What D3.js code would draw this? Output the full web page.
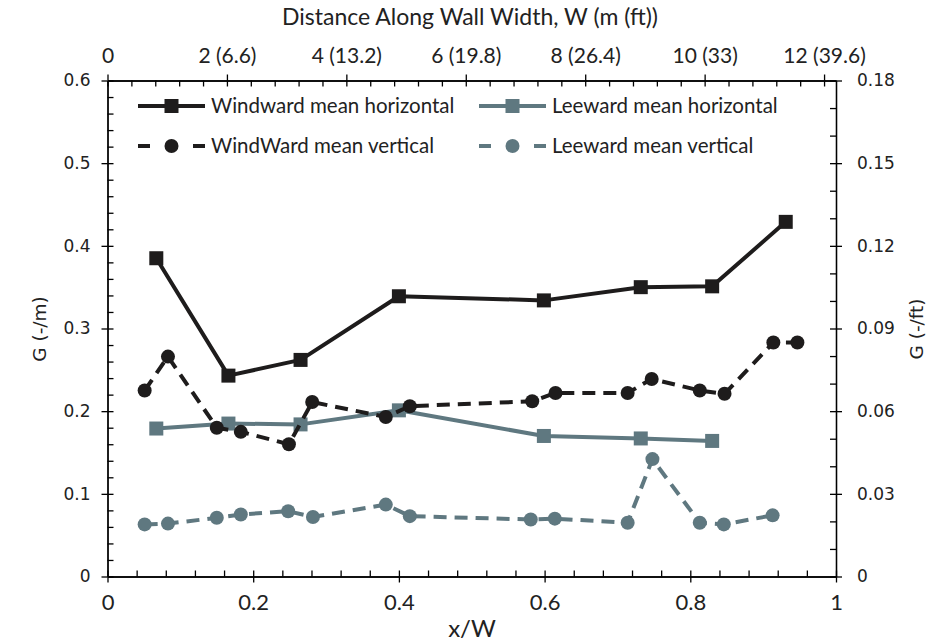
<!DOCTYPE html>
<html>
<head>
<meta charset="utf-8">
<script src="https://cdn.jsdelivr.net/npm/d3@7"></script>
<style>
  body { margin: 0; background: #fff; }
  svg { display: block; }
</style>
</head>
<body>
<svg id="chart" width="935" height="641"></svg>
<script>
// ---- data ----
const windHX = [0.067, 0.166, 0.265, 0.400, 0.599, 0.732, 0.830, 0.931];
const windHY = [0.385, 0.243, 0.262, 0.339, 0.334, 0.350, 0.351, 0.429];
const leeHX  = [0.067, 0.166, 0.265, 0.400, 0.599, 0.732, 0.830];
const leeHY  = [0.179, 0.185, 0.184, 0.201, 0.170, 0.167, 0.164];
const windVX = [0.051, 0.083, 0.150, 0.183, 0.249, 0.281, 0.382, 0.415, 0.583, 0.615, 0.714, 0.747, 0.813, 0.847, 0.914, 0.947];
const windVY = [0.225, 0.266, 0.180, 0.175, 0.160, 0.211, 0.193, 0.206, 0.212, 0.222, 0.222, 0.239, 0.225, 0.221, 0.283, 0.283];
const leeVX  = [0.051, 0.083, 0.150, 0.183, 0.248, 0.282, 0.382, 0.415, 0.581, 0.614, 0.714, 0.748, 0.813, 0.846, 0.913];
const leeVY  = [0.063, 0.064, 0.071, 0.075, 0.079, 0.072, 0.087, 0.073, 0.069, 0.070, 0.065, 0.142, 0.065, 0.063, 0.074];

const seriesNames = ["Windward mean horizontal", "Leeward mean horizontal", "WindWard mean vertical", "Leeward mean vertical"];

const xTicks = [0, 0.2, 0.4, 0.6, 0.8, 1];
const xTickLabels = ["0", "0.2", "0.4", "0.6", "0.8", "1"];
const yTicks = [0, 0.1, 0.2, 0.3, 0.4, 0.5, 0.6];
const yTickLabels = ["0", "0.1", "0.2", "0.3", "0.4", "0.5", "0.6"];
const y2Ticks = [0, 0.03, 0.06, 0.09, 0.12, 0.15, 0.18];
const y2TickLabels = ["0", "0.03", "0.06", "0.09", "0.12", "0.15", "0.18"];
const topTicks = [0, 2, 4, 6, 8, 10, 12];
const topTickLabels = ["0", "2 (6.6)", "4 (13.2)", "6 (19.8)", "8 (26.4)", "10 (33)", "12 (39.6)"];
const wallWidth = 12.2;

// ---- layout ----
const L = 107.5, R = 836, T = 80.5, B = 576.5;
const BLACK = "#1e1c1c", GRAY = "#5f7880";
const labelFont = "'DejaVu Sans', Verdana, sans-serif";
const textFont = "Lato, 'Open Sans', sans-serif";

const svg = d3.select("#chart");
const x = d3.scaleLinear().domain([0, 1]).range([L, R]);
const y = d3.scaleLinear().domain([0, 0.6]).range([B, T]);
const y2 = d3.scaleLinear().domain([0, 0.18]).range([B, T]);
const xTop = d3.scaleLinear().domain([0, wallWidth]).range([L, R]);

function rangeStep(a, b, s) { const out = []; for (let v = a; v <= b + 1e-9; v += s) out.push(+v.toFixed(6)); return out; }

function styleAxis(g) {
  g.selectAll("path.domain").attr("stroke", "#000").attr("stroke-width", 1.3);
  g.selectAll(".tick line").attr("stroke", "#000").attr("stroke-width", 1.3);
}

// bottom axis
const gB = svg.append("g").attr("transform", `translate(0,${B})`);
gB.call(d3.axisBottom(x).tickValues(rangeStep(0, 1, 0.04)).tickSize(-6).tickSizeOuter(0).tickFormat(""));
gB.append("g").call(d3.axisBottom(x).tickValues(xTicks).tickSize(6).tickSizeOuter(0)
  .tickFormat((d, i) => xTickLabels[i]).tickPadding(12));
styleAxis(gB);
gB.selectAll("text").attr("font-family", textFont).attr("font-size", 22).attr("fill", "#222");

// top axis
const gT = svg.append("g").attr("transform", `translate(0,${T})`);
gT.call(d3.axisTop(xTop).tickValues(rangeStep(0, 12, 0.4)).tickSize(-6).tickSizeOuter(0).tickFormat(""));
gT.append("g").call(d3.axisTop(xTop).tickValues(topTicks).tickSize(6).tickSizeOuter(0)
  .tickFormat((d, i) => topTickLabels[i]).tickPadding(12));
styleAxis(gT);
gT.selectAll("text").attr("font-family", textFont).attr("font-size", 21).attr("fill", "#222");

// left axis
const gL = svg.append("g").attr("transform", `translate(${L},0)`);
gL.call(d3.axisLeft(y).tickValues(rangeStep(0, 0.6, 0.02)).tickSize(-6).tickSizeOuter(0).tickFormat(""));
gL.append("g").call(d3.axisLeft(y).tickValues(yTicks).tickSize(6).tickSizeOuter(0)
  .tickFormat((d, i) => yTickLabels[i]).tickPadding(11));
styleAxis(gL);
gL.selectAll("text").attr("font-family", labelFont).attr("font-size", 17).attr("fill", "#222");

// right axis
const gR = svg.append("g").attr("transform", `translate(${R},0)`);
gR.call(d3.axisRight(y2).tickValues(rangeStep(0, 0.18, 0.01)).tickSize(-6).tickSizeOuter(0).tickFormat(""));
gR.append("g").call(d3.axisRight(y2).tickValues(y2Ticks).tickSize(6).tickSizeOuter(0)
  .tickFormat((d, i) => y2TickLabels[i]).tickPadding(15));
styleAxis(gR);
gR.selectAll("text").attr("font-family", labelFont).attr("font-size", 17).attr("fill", "#222");

// axis titles
svg.append("text").attr("x", 470).attr("y", 25).attr("text-anchor", "middle")
  .attr("font-family", textFont).attr("font-size", 23).attr("fill", "#222")
  .text("Distance Along Wall Width, W (m (ft))");
svg.append("text").attr("x", 472).attr("y", 637).attr("text-anchor", "middle")
  .attr("font-family", textFont).attr("font-size", 24).attr("fill", "#222")
  .text("x/W");
svg.append("text").attr("transform", "translate(46,329) rotate(-90)").attr("text-anchor", "middle")
  .attr("font-family", labelFont).attr("font-size", 18.5).attr("fill", "#222")
  .text("G (-/m)");
svg.append("text").attr("transform", "translate(923,329) rotate(-90)").attr("text-anchor", "middle")
  .attr("font-family", labelFont).attr("font-size", 18.5).attr("fill", "#222")
  .text("G (-/ft)");

// ---- series ----
const line = d3.line().x(d => x(d[0])).y(d => y(d[1]));
function drawSeries(xs, ys, color, dashed, marker) {
  const pts = xs.map((v, i) => [v, ys[i]]);
  const g = svg.append("g");
  g.append("path").datum(pts).attr("d", line).attr("fill", "none")
    .attr("stroke", color).attr("stroke-width", 4)
    .attr("stroke-dasharray", dashed ? "13,8" : null)
    .attr("stroke-linejoin", "round");
  if (marker === "square") {
    g.selectAll("rect").data(pts).join("rect")
      .attr("x", d => x(d[0]) - 7).attr("y", d => y(d[1]) - 7)
      .attr("width", 14).attr("height", 14).attr("fill", color);
  } else {
    g.selectAll("circle").data(pts).join("circle")
      .attr("cx", d => x(d[0])).attr("cy", d => y(d[1]))
      .attr("r", 7).attr("fill", color);
  }
}
drawSeries(leeHX, leeHY, GRAY, false, "square");
drawSeries(leeVX, leeVY, GRAY, true, "circle");
drawSeries(windHX, windHY, BLACK, false, "square");
drawSeries(windVX, windVY, BLACK, true, "circle");

// ---- legend ----
const legendItems = [
  { name: seriesNames[0], color: BLACK, dashed: false, marker: "square", x0: 138, yy: 106 },
  { name: seriesNames[1], color: GRAY, dashed: false, marker: "square", x0: 479, yy: 106 },
  { name: seriesNames[2], color: BLACK, dashed: true, marker: "circle", x0: 138, yy: 146 },
  { name: seriesNames[3], color: GRAY, dashed: true, marker: "circle", x0: 479, yy: 146 }
];
const lg = svg.append("g");
legendItems.forEach(it => {
  const g = lg.append("g");
  if (it.dashed) {
    g.append("line").attr("x1", it.x0).attr("x2", it.x0 + 12).attr("y1", it.yy).attr("y2", it.yy)
      .attr("stroke", it.color).attr("stroke-width", 4);
    g.append("line").attr("x1", it.x0 + 55).attr("x2", it.x0 + 67).attr("y1", it.yy).attr("y2", it.yy)
      .attr("stroke", it.color).attr("stroke-width", 4);
    g.append("circle").attr("cx", it.x0 + 33.5).attr("cy", it.yy).attr("r", 7).attr("fill", it.color);
  } else {
    g.append("line").attr("x1", it.x0).attr("x2", it.x0 + 67).attr("y1", it.yy).attr("y2", it.yy)
      .attr("stroke", it.color).attr("stroke-width", 4);
    g.append("rect").attr("x", it.x0 + 26.5).attr("y", it.yy - 7).attr("width", 14).attr("height", 14).attr("fill", it.color);
  }
  g.append("text").attr("x", it.x0 + 73).attr("y", it.yy + 7)
    .attr("font-family", textFont).attr("font-size", 20.5).attr("fill", "#222")
    .text(it.name);
});
</script>
</body>
</html>
